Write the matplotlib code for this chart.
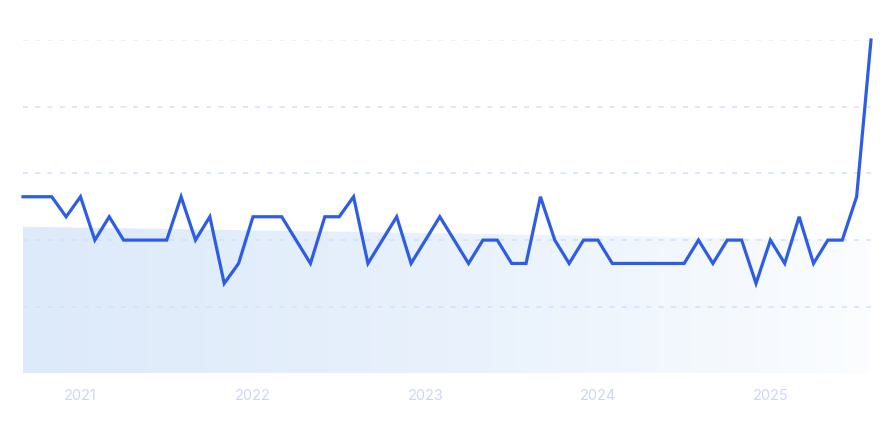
import matplotlib
matplotlib.use("Agg")
import matplotlib.pyplot as plt
import numpy as np
import pandas as pd
from matplotlib.patches import Polygon
from matplotlib.colors import LinearSegmentedColormap

plt.rcParams['font.family'] = ['Inter', 'DejaVu Sans']
plt.rcParams['lines.scale_dashes'] = False

# ---- data ----
months = pd.date_range("2020-09-01", "2025-08-01", freq="MS")
values = [53, 53, 53, 47, 53, 40, 47, 40, 40, 40,
          40, 53, 40, 47, 27, 33, 47, 47, 47, 40,
          33, 47, 47, 53, 33, 40, 47, 33, 40, 47,
          40, 33, 40, 40, 33, 33, 53, 40, 33, 40,
          40, 33, 33, 33, 33, 33, 33, 40, 33, 40,
          40, 27, 40, 33, 47, 33, 40, 40, 53, 100]
trend = [44, 40]              # shaded band top at start / end
grid_levels = [20, 40, 60, 80, 100]
tick_years = ["2021", "2022", "2023", "2024", "2025"]

W, H = 890, 430
fig = plt.figure(figsize=(W / 100, H / 100), dpi=100)
left, right = 23 / W, 871 / W
bottom, top = (H - 373.5) / H, (H - 40) / H
ax = fig.add_axes([left, bottom, right - left, top - bottom])

x = np.arange(len(values))
ax.set_xlim(x[0], x[-1])
ax.set_ylim(0, 100)

# gradient shaded band
cmap = LinearSegmentedColormap.from_list("g", ["#ddeafa", "#e8f1fc", "#fbfdff"])
grad = np.linspace(0, 1, 256).reshape(1, -1)
im = ax.imshow(grad, cmap=cmap, aspect="auto", interpolation="bilinear",
               extent=[x[0], x[-1], 0, 100], origin="lower", zorder=1)
poly = Polygon([[x[0], 0], [x[0], trend[0]], [x[-1], trend[1]], [x[-1], 0]],
               closed=True, facecolor="none", edgecolor="none")
ax.add_patch(poly)
im.set_clip_path(poly)

# dashed gridlines
for g in grid_levels:
    col = "#e8eefb" if g == 100 else "#d3e0fa"
    ln, = ax.plot([x[0], x[-1]], [g, g], color=col, lw=1.1, zorder=2)
    ln.set_dashes([3.6, 5.2])

# main line
ax.plot(x, values, color="#2d5de6", lw=2.3, zorder=3, clip_on=False,
        solid_joinstyle="miter")

# ticks
tick_pos = [list(months).index(pd.Timestamp(f"{y}-01-01")) for y in tick_years]
ax.set_xticks(tick_pos)
ax.set_xticklabels(tick_years, color="#cdd7f5", fontsize=10.5)
ax.tick_params(axis="x", length=0, pad=11.5)
ax.set_yticks([])
for s in ax.spines.values():
    s.set_visible(False)

fig.savefig("out.png", dpi=100, facecolor="white")
